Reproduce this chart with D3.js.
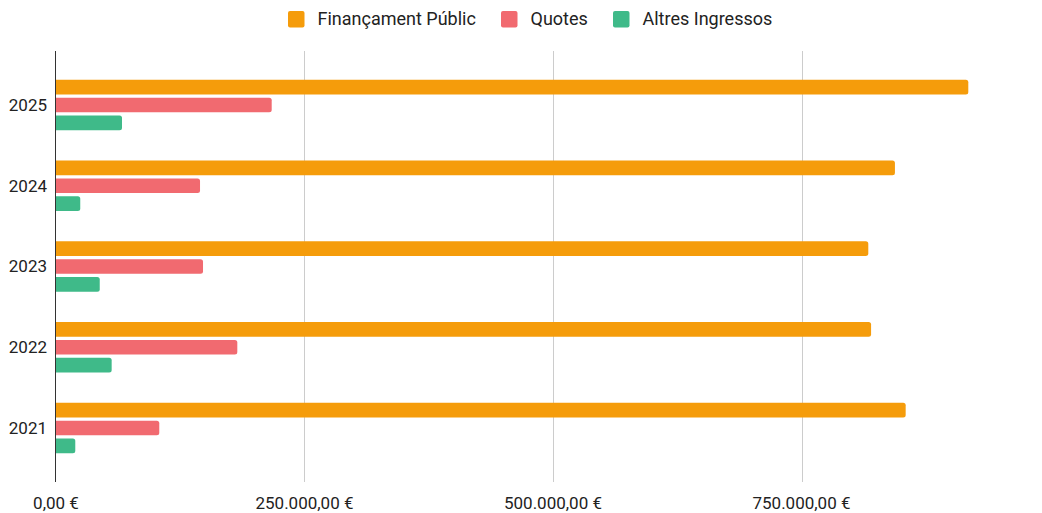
<!DOCTYPE html>
<html><head><meta charset="utf-8">
<script src="https://cdn.jsdelivr.net/npm/d3@7"></script>
<style>body{margin:0;background:#fff;} text{font-family:Roboto, sans-serif;fill:#222;}</style>
</head><body><svg id="c" width="1042" height="513"></svg>
<script>
const years = ["2025","2024","2023","2022","2021"];
const seriesNames = ["Finançament Públic","Quotes","Altres Ingressos"];
const colors = ["#f59c0b","#f16a70","#3fba89"];
const financament = [917800, 844000, 817200, 820000, 854800];
const quotes = [217000, 144900, 147900, 182400, 103900];
const altres = [66400, 24400, 44000, 56000, 19400];
const tickValues = [0, 250000, 500000, 750000];
const tickLabels = ["0,00 €","250.000,00 €","500.000,00 €","750.000,00 €"];

const seriesVals = [financament, quotes, altres];
const svg = d3.select("#c");
const plotLeft = 56, plotTop = 51, plotBottom = 482;
const x = d3.scaleLinear().domain([0, 750000]).range([plotLeft, 801.5]);
const y = d3.scalePoint().domain(years).range([plotTop, plotBottom]).padding(0.669);
const inner = d3.scaleBand().domain(seriesNames).range([-26.85, 26.85]).paddingInner(0.18).paddingOuter(0.09);

// gridlines
svg.append("g").selectAll("line").data(tickValues.slice(1)).join("line")
  .attr("x1", d=>Math.round(x(d))+0.5).attr("x2", d=>Math.round(x(d))+0.5).attr("y1", plotTop).attr("y2", plotBottom)
  .attr("stroke", "#cccccc").attr("stroke-width", 1);

// bars
function barPath(x0, x1, y0, h, r){
  r = Math.min(r, (x1-x0)/2, h/2);
  return `M${x0},${y0}H${x1-r}Q${x1},${y0} ${x1},${y0+r}V${y0+h-r}Q${x1},${y0+h} ${x1-r},${y0+h}H${x0}Z`;
}
seriesNames.forEach((s, si) => {
  svg.append("g").selectAll("path").data(years.map((yr,i)=>({yr, v: seriesVals[si][i]}))).join("path")
    .attr("d", d => barPath(x(0), x(d.v), y(d.yr)+inner(s), inner.bandwidth(), 2.5))
    .attr("fill", colors[si]);
});

// axis line
svg.append("line").attr("x1", plotLeft-0.5).attr("x2", plotLeft-0.5).attr("y1", plotTop).attr("y2", plotBottom)
  .attr("stroke", "#333").attr("stroke-width", 1);

// y labels
svg.append("g").selectAll("text").data(years).join("text")
  .attr("x", 47).attr("y", d=>y(d)).attr("dy", "0.35em").attr("text-anchor","end")
  .attr("font-size", 17).text(d=>d);

// x labels
svg.append("g").selectAll("text").data(tickValues).join("text")
  .attr("x", d=>x(d)).attr("y", 509).attr("text-anchor","middle")
  .attr("font-size", 17).text((d,i)=>tickLabels[i]);

// legend
const legendX = [288, 501, 613];
const lg = svg.append("g");
seriesNames.forEach((s, i) => {
  lg.append("rect").attr("x", legendX[i]).attr("y", 11).attr("width", 16.5).attr("height", 16.5).attr("rx", 2).attr("fill", colors[i]);
  lg.append("text").attr("x", legendX[i]+29.5).attr("y", 19).attr("dy","0.35em").attr("font-size", 18).text(s);
});
</script></body></html>
